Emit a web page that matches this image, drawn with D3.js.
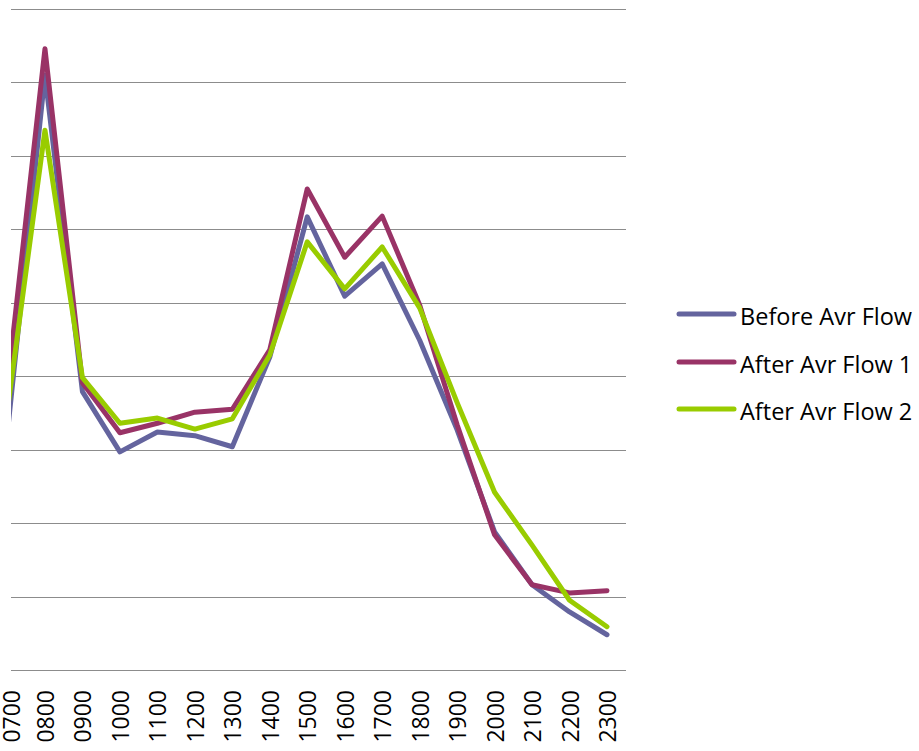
<!DOCTYPE html>
<html>
<head>
<meta charset="utf-8">
<script src="https://cdn.jsdelivr.net/npm/d3@7"></script>
<style>
  html, body { margin: 0; padding: 0; background: #fff; }
  svg { display: block; }
  text { font-family: "Open Sans", sans-serif; fill: #000; }
</style>
</head>
<body>
<svg id="chart" width="919" height="751"></svg>
<script>
const categories = ["0700","0800","0900","1000","1100","1200","1300","1400","1500","1600","1700","1800","1900","2000","2100","2200","2300"];
const seriesNames = ["Before Avr Flow", "After Avr Flow 1", "After Avr Flow 2"];
const beforeFlow = [3.24, 8.10, 3.79, 2.97, 3.24, 3.19, 3.04, 4.26, 6.17, 5.09, 5.53, 4.49, 3.27, 1.88, 1.16, 0.79, 0.48];
const afterFlow1 = [3.88, 8.46, 3.91, 3.23, 3.36, 3.51, 3.55, 4.36, 6.55, 5.62, 6.18, 4.97, 3.34, 1.84, 1.16, 1.05, 1.08];
const afterFlow2 = [3.55, 7.35, 3.98, 3.36, 3.43, 3.28, 3.42, 4.29, 5.83, 5.19, 5.76, 4.93, 3.64, 2.42, 1.70, 0.95, 0.59];
const yTicks = [0, 1, 2, 3, 4, 5, 6, 7, 8, 9];
const colors = ["#64649E", "#993366", "#99CC00"];

const series = [beforeFlow, afterFlow1, afterFlow2];

const svg = d3.select("#chart");
const plot = { left: 11, right: 626, top: 9, bottom: 670 };

const x = d3.scalePoint().domain(categories).range([7.5, 607]);
const y = d3.scaleLinear().domain([0, 9]).range([plot.bottom, plot.top]);

// gridlines
svg.append("g").selectAll("line").data(yTicks).join("line")
  .attr("x1", plot.left).attr("x2", plot.right)
  .attr("y1", d => Math.round(y(d)) + 0.5).attr("y2", d => Math.round(y(d)) + 0.5)
  .attr("stroke", "#8c8c8c").attr("stroke-width", 1.2);

// x axis labels
svg.append("g").selectAll("text").data(categories).join("text")
  .attr("transform", d => `translate(${Math.max(x(d), 10.5)},690) rotate(-90)`)
  .attr("text-anchor", "end")
  .attr("dominant-baseline", "central")
  .style("font-size", "23px")
  .text(d => d);

// clip
svg.append("defs").append("clipPath").attr("id", "clip")
  .append("rect").attr("x", plot.left).attr("y", 0)
  .attr("width", plot.right - plot.left).attr("height", 751);

const line = d3.line().x((d, i) => x(categories[i])).y(d => y(d));

svg.append("g").attr("clip-path", "url(#clip)")
  .selectAll("path").data(series).join("path")
  .attr("d", d => line(d))
  .attr("fill", "none")
  .attr("stroke", (d, i) => colors[i])
  .attr("stroke-width", 5)
  .attr("stroke-linejoin", "round")
  .attr("stroke-linecap", "round");

// legend
const legendY = [314, 362, 409];
const lg = svg.append("g").selectAll("g").data(seriesNames).join("g")
  .attr("transform", (d, i) => `translate(0,${legendY[i]})`);
lg.append("line")
  .attr("x1", 679).attr("x2", 734).attr("y1", 0).attr("y2", 0)
  .attr("stroke", (d, i) => colors[i]).attr("stroke-width", 5)
  .attr("stroke-linecap", "round");
lg.append("text")
  .attr("x", 740).attr("y", 2)
  .attr("dominant-baseline", "central")
  .style("font-size", "23.5px")
  .text(d => d);
</script>
</body>
</html>
